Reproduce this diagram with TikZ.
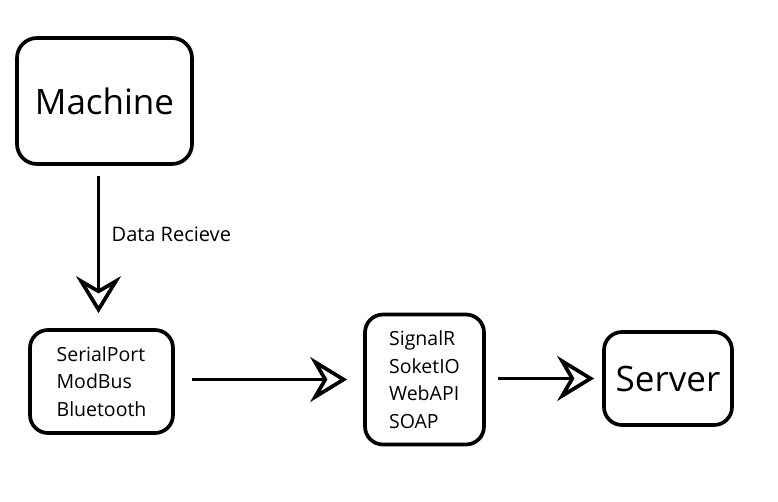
\documentclass[tikz,border=0pt]{standalone}
\usepackage{fontspec}
\setmainfont{Open Sans}
\usetikzlibrary{arrows.meta}
\begin{document}
\begin{tikzpicture}[x=1pt,y=-1pt,
  boxstyle/.style={draw, line width=3.7pt, rounded corners=20pt, inner sep=0pt},
  smalltext/.style={font=\fontsize{19.5}{27.5}\selectfont, align=left},
  bigtext/.style={font=\fontsize{35}{40}\selectfont},
  conn/.style={line width=3.7pt, -{Stealth[open, length=37pt, width=45pt, inset=13pt]}},
]
\useasboundingbox (0,0) rectangle (778,501);
\node[boxstyle, minimum width=175pt, minimum height=126pt, bigtext] (machine) at (104.5,101) {Machine};
\node[boxstyle, rounded corners=18pt, minimum width=143pt, minimum height=103pt, smalltext] (serial) at (101.5,381.5) {SerialPort\\ModBus\\Bluetooth};
\node[boxstyle, rounded corners=18pt, minimum width=119pt, minimum height=130pt, smalltext] (signal) at (424.5,379.5) {SignalR\\SoketIO\\WebAPI\\SOAP};
\node[boxstyle, rounded corners=18pt, minimum width=128pt, minimum height=93pt, bigtext] (server) at (668,378.5) {Server};
\draw[conn, shorten <=10pt, shorten >=15pt] ([xshift=-6pt]machine.south) -- ([xshift=-3pt]serial.north) node[pos=0.42, right=8pt, font=\fontsize{20}{24}\selectfont] (lbl) {Data Recieve};
\draw[conn, shorten <=17pt, shorten >=16pt] (serial.east |- signal.west) -- (signal.west);
\draw[conn, shorten <=12pt, shorten >=8pt] (signal.east |- server.west) -- (server.west);
\end{tikzpicture}
\end{document}
